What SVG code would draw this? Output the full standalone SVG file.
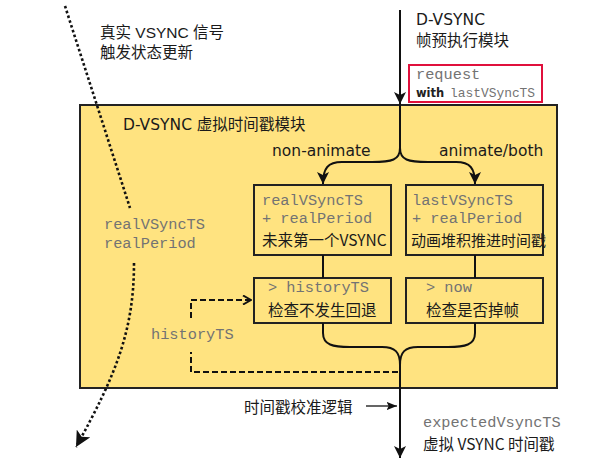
<svg xmlns="http://www.w3.org/2000/svg" width="592" height="461" viewBox="0 0 592 461">
<style>
.sans{font-family:"DejaVu Sans","Noto Sans CJK SC",sans-serif;font-size:15.5px;fill:#1a1a1a}
.lib{font-family:"Liberation Sans","Noto Sans CJK SC",sans-serif;font-size:15.5px;fill:#1a1a1a}
.noto{font-family:"Noto Sans CJK SC",sans-serif;font-size:15.5px;fill:#1a1a1a}
.mono{font-family:"Liberation Mono","Courier New",monospace;font-size:15.3px;fill:#737373}
.box{fill:#FFE380;stroke:#222;stroke-width:2}
.line{fill:none;stroke:#111;stroke-width:2}
.dash{fill:none;stroke:#111;stroke-width:2;stroke-dasharray:6 3}
.dot{fill:none;stroke:#111;stroke-width:2.6;stroke-dasharray:2.6 2.4}
</style>
<defs>
<marker id="ah" viewBox="0 0 10 10" refX="10" refY="5" markerWidth="6" markerHeight="6" markerUnits="strokeWidth" orient="auto">
<path d="M0,0 L10,5 L0,10 L2.5,5 Z" fill="#111"/>
</marker>
<marker id="ahs" viewBox="0 0 10 10" refX="10" refY="5" markerWidth="8" markerHeight="8" markerUnits="strokeWidth" orient="auto">
<path d="M0,1 L10,5 L0,9 L2,5 Z" fill="#111"/>
</marker>
<marker id="ao" viewBox="0 0 10 10" refX="9" refY="5" markerWidth="5" markerHeight="5" markerUnits="strokeWidth" orient="auto">
<path d="M1,0.5 L9,5 L1,9.5" fill="none" stroke="#111" stroke-width="2"/>
</marker>
</defs>

<g id="module">
<rect class="box" x="80" y="105" width="477" height="283"/>
<text class="sans" x="123" y="130">D-VSYNC 虚拟时间戳模块</text>
</g>

<g id="labels">
<text class="lib" x="100" y="38">真实 VSYNC 信号</text>
<text class="lib" x="100" y="58">触发状态更新</text>
<text class="sans" x="416" y="25">D-VSYNC</text>
<text class="sans" x="416" y="46">帧预执行模块</text>
<text class="sans" x="272" y="156">non-animate</text>
<text class="sans" x="439" y="156">animate/both</text>
<text class="mono" x="104" y="229">realVSyncTS</text>
<text class="mono" x="104" y="248">realPeriod</text>
<text class="mono" x="151" y="339">historyTS</text>
<text class="noto" x="244" y="413">时间戳校准逻辑</text>
<text class="mono" x="423" y="427">expectedVsyncTS</text>
<text class="noto" x="423" y="450">虚拟 VSYNC 时间戳</text>
</g>

<g id="request">
<rect x="409" y="65" width="133" height="37" fill="#fff" stroke="#E0103C" stroke-width="2"/>
<text class="mono" x="416" y="79">request</text>
<text x="416" y="97" style="font-family:'DejaVu Sans',sans-serif;font-size:11.5px;font-weight:bold;fill:#222">with</text>
<text class="mono" x="450" y="97" style="font-size:12.9px">lastVSyncTS</text>
</g>

<g id="box-real">
<rect class="box" x="254" y="185" width="137" height="70"/>
<text class="mono" x="262" y="205">realVSyncTS</text>
<text class="mono" x="262" y="223">+ realPeriod</text>
<text class="noto" x="262" y="246">未来第一个VSYNC</text>
</g>

<g id="box-last">
<rect class="box" x="406" y="185" width="137" height="70"/>
<text class="mono" x="412" y="205">lastVSyncTS</text>
<text class="mono" x="412" y="223">+ realPeriod</text>
<text class="noto" x="411" y="246" style="font-size:15px">动画堆积推进时间戳</text>
</g>

<g id="box-history">
<rect class="box" x="254" y="278" width="137" height="45"/>
<text class="mono" x="268" y="292">&gt; historyTS</text>
<text class="noto" x="268" y="316">检查不发生回退</text>
</g>

<g id="box-now">
<rect class="box" x="406" y="278" width="137" height="45"/>
<text class="mono" x="426" y="292">&gt; now</text>
<text class="noto" x="426" y="316">检查是否掉帧</text>
</g>

<g id="connectors">
<path class="line" d="M400,10 V104" marker-end="url(#ah)"/>
<path class="line" d="M400,104 V150"/>
<path class="line" d="M400,148 C400,160 392,162 372,162 L342,162 C328,162 323,168 323,184" marker-end="url(#ah)"/>
<path class="line" d="M400,148 C400,160 408,162 428,162 L456,162 C470,162 475,168 475,184" marker-end="url(#ah)"/>
<path class="line" d="M323,255 V278"/>
<path class="line" d="M475,255 V278"/>
<path class="line" d="M323,323 V333 C323,345 333,347 350,347 L382,347 C395,347 400,352 400,365"/>
<path class="line" d="M475,323 V333 C475,345 465,347 448,347 L418,347 C405,347 400,352 400,365"/>
<path class="line" d="M400,360 V458" marker-end="url(#ah)"/>
<path class="dash" d="M398,372 H191 V352"/>
<path class="dash" d="M191,318 V300 H251" marker-end="url(#ao)"/>
<path d="M366,406 H397" fill="none" stroke="#111" stroke-width="1.3" marker-end="url(#ahs)"/>
<path class="dot" d="M65,6 L130,208"/>
<path class="dot" d="M134,263 C134,330 116,375 76,447" marker-end="url(#ah)"/>
</g>
</svg>
